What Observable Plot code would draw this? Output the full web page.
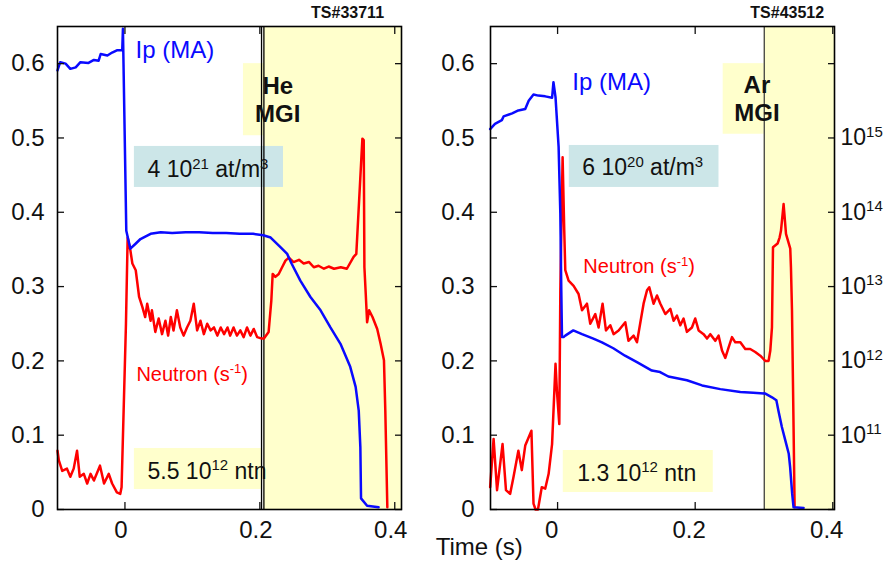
<!DOCTYPE html>
<html><head><meta charset="utf-8">
<script src="https://cdn.jsdelivr.net/npm/d3@7"></script>
<script src="https://cdn.jsdelivr.net/npm/@observablehq/plot@0.6"></script>
<style>
html,body{margin:0;padding:0;background:#fff;}
#wrap{position:relative;width:886px;height:563px;}
#wrap svg{position:absolute;top:0;}
</style></head><body><div id="wrap"></div>
<script>
// ---------- data ----------
const xTicks = [0, 0.2, 0.4];
const yTicks = [0, 0.1, 0.2, 0.3, 0.4, 0.5, 0.6];
const neutronLogTicks = [11, 12, 13, 14, 15];   // right axis of shot 43512, 10^n s^-1

const shotLeft = "TS#33711";
const shotRight = "TS#43512";
const mgiLeft = 0.206;   // He MGI trigger (s)
const mgiRight = 0.3004; // Ar MGI trigger (s)

// Shot 33711: plasma current Ip (MA) vs time (s)
const ipLeft = [[-0.100,0.591],[-0.096,0.602],[-0.088,0.600],[-0.081,0.593],[-0.073,0.595],[-0.066,0.602],[-0.054,0.601],[-0.046,0.605],[-0.039,0.604],[-0.036,0.613],[-0.026,0.611],[-0.019,0.615],[-0.012,0.618],[-0.004,0.618],[-0.003,0.647],[0.002,0.375],[0.008,0.351],[0.015,0.357],[0.023,0.364],[0.038,0.371],[0.053,0.373],[0.07,0.372],[0.09,0.373],[0.11,0.373],[0.13,0.372],[0.15,0.372],[0.17,0.371],[0.19,0.371],[0.205,0.369],[0.216,0.366],[0.2305,0.353],[0.2405,0.344],[0.247,0.331],[0.260,0.308],[0.275,0.286],[0.290,0.268],[0.3046,0.245],[0.3195,0.223],[0.334,0.192],[0.342,0.165],[0.3466,0.133],[0.349,0.084],[0.350,0.015],[0.359,0.005],[0.376,0.003]];

// Shot 33711: neutron rate (arbitrary log units, shown on the same frame)
const neutronLeft = [[-0.100,0.079],[-0.098,0.066],[-0.093,0.052],[-0.086,0.055],[-0.081,0.044],[-0.076,0.055],[-0.071,0.079],[-0.067,0.044],[-0.061,0.048],[-0.056,0.035],[-0.051,0.048],[-0.046,0.039],[-0.037,0.059],[-0.031,0.035],[-0.024,0.048],[-0.019,0.035],[-0.012,0.023],[-0.007,0.021],[-0.005,0.030],[0.0015,0.250],[0.004,0.366],[0.008,0.349],[0.011,0.331],[0.016,0.322],[0.021,0.286],[0.026,0.272],[0.030,0.259],[0.033,0.277],[0.038,0.254],[0.040,0.268],[0.045,0.239],[0.050,0.257],[0.055,0.236],[0.060,0.254],[0.064,0.234],[0.068,0.259],[0.072,0.241],[0.077,0.268],[0.082,0.245],[0.087,0.234],[0.092,0.245],[0.097,0.254],[0.102,0.277],[0.107,0.241],[0.112,0.254],[0.117,0.236],[0.122,0.250],[0.127,0.241],[0.132,0.245],[0.137,0.234],[0.142,0.245],[0.147,0.236],[0.152,0.245],[0.156,0.234],[0.161,0.245],[0.166,0.234],[0.171,0.241],[0.176,0.232],[0.181,0.245],[0.186,0.234],[0.191,0.243],[0.196,0.232],[0.203,0.230],[0.206,0.230],[0.213,0.239],[0.217,0.281],[0.219,0.317],[0.223,0.313],[0.228,0.317],[0.233,0.326],[0.238,0.335],[0.243,0.339],[0.250,0.333],[0.258,0.336],[0.265,0.331],[0.273,0.333],[0.280,0.326],[0.287,0.328],[0.295,0.324],[0.302,0.327],[0.310,0.324],[0.320,0.326],[0.329,0.324],[0.339,0.340],[0.343,0.344],[0.352,0.499],[0.354,0.497],[0.355,0.326],[0.357,0.290],[0.359,0.252],[0.362,0.268],[0.367,0.259],[0.374,0.243],[0.379,0.223],[0.384,0.201],[0.386,0.133],[0.389,0.003]];

// Shot 43512: plasma current Ip (MA)
const ipRight = [[-0.098,0.512],[-0.091,0.519],[-0.081,0.524],[-0.0785,0.529],[-0.066,0.533],[-0.057,0.537],[-0.047,0.539],[-0.042,0.550],[-0.035,0.5585],[-0.028,0.557],[-0.018,0.556],[-0.008,0.554],[-0.006,0.575],[-0.003,0.555],[0.0015,0.488],[0.004,0.398],[0.0054,0.295],[0.0064,0.232],[0.0087,0.232],[0.0112,0.234],[0.0228,0.241],[0.0355,0.236],[0.052,0.230],[0.0645,0.225],[0.081,0.217],[0.098,0.207],[0.116,0.198],[0.137,0.187],[0.149,0.185],[0.161,0.179],[0.188,0.174],[0.21,0.167],[0.2365,0.162],[0.2656,0.158],[0.2844,0.157],[0.302,0.156],[0.3116,0.151],[0.318,0.147],[0.321,0.133],[0.326,0.111],[0.331,0.093],[0.336,0.075],[0.338,0.057],[0.341,0.021],[0.343,0.003],[0.3576,0.002]];

// Shot 43512: neutron rate, log10(s^-1)
const neutronRight = [[-0.098,10.30],[-0.093,10.95],[-0.088,10.26],[-0.080,10.88],[-0.075,10.26],[-0.069,10.21],[-0.064,10.44],[-0.057,10.79],[-0.052,10.53],[-0.047,10.86],[-0.038,11.06],[-0.035,10.08],[-0.032,10.00],[-0.0285,10.00],[-0.023,10.30],[-0.018,10.28],[-0.013,10.48],[-0.008,10.88],[-0.003,11.96],[-0.001,11.60],[0.0025,11.15],[0.004,12.95],[0.0073,14.74],[0.0097,13.75],[0.0112,13.22],[0.016,13.08],[0.0233,13.01],[0.0305,12.90],[0.0355,12.68],[0.0427,12.77],[0.0475,12.50],[0.0548,12.63],[0.0596,12.45],[0.0654,12.77],[0.0703,12.41],[0.0766,12.48],[0.0814,12.36],[0.0887,12.41],[0.0984,12.52],[0.103,12.27],[0.1105,12.34],[0.1154,12.25],[0.120,12.50],[0.125,12.77],[0.130,12.95],[0.1333,12.99],[0.1395,12.77],[0.1445,12.88],[0.1494,12.77],[0.1566,12.63],[0.1639,12.70],[0.1686,12.54],[0.1735,12.61],[0.1784,12.48],[0.1831,12.57],[0.188,12.39],[0.1953,12.45],[0.2001,12.57],[0.205,12.41],[0.2122,12.36],[0.2172,12.30],[0.222,12.36],[0.2292,12.27],[0.234,12.34],[0.239,12.14],[0.2438,12.04],[0.2485,12.18],[0.2535,12.32],[0.2583,12.25],[0.2656,12.25],[0.2728,12.16],[0.280,12.16],[0.2873,12.12],[0.2946,12.07],[0.3019,12.00],[0.3067,12.00],[0.3092,12.14],[0.3116,12.45],[0.3131,13.53],[0.3198,13.58],[0.3227,13.66],[0.3247,13.75],[0.3285,14.11],[0.332,13.71],[0.3382,13.51],[0.3392,13.26],[0.3407,12.68],[0.343,11.11],[0.3445,10.03]];

const ipText = "Ip (MA)";
const neutronText = "Neutron (s^{-1})";
const densityLeft = "4 10^{21} at/m^{3}";
const densityRight = "6 10^{20} at/m^{3}";
const yieldLeft = "5.5 10^{12} ntn";
const yieldRight = "1.3 10^{12} ntn";
const gasLeft = "He\nMGI";
const gasRight = "Ar\nMGI";
const timeText = "Time (s)";

// ---------- styling ----------
const FONT = "'Liberation Sans', Arial, Helvetica, sans-serif";
const BLUE = "#0a0aff", RED = "#ff0000", SHADE = "#ffffcc", TEAL = "#cce6e8", INK = "#111";
const logToAxis = e => (e - 10) / 10;
const fmtX = d => d === 0 ? "0" : d.toFixed(1);
const fmtY = d => d === 0 ? "0" : d.toFixed(1);

function axesMarks(xDomain, padLeft, dxX) {
  return [
    Plot.axisY(yTicks, {anchor: "left", tickSize: 0, tickPadding: padLeft, tickFormat: fmtY, fontSize: 24, label: null}),
    Plot.axisY(yTicks, {anchor: "left", tickSize: -7, fill: "none", strokeWidth: 1.3, label: null}),
    Plot.axisY(yTicks, {anchor: "right", tickSize: -7, fill: "none", strokeWidth: 1.3, label: null}),
    Plot.axisX(xTicks, {anchor: "bottom", tickSize: 0, tickPadding: 11, dx: dxX, tickFormat: fmtX, fontSize: 24, label: null}),
    Plot.axisX(xTicks, {anchor: "bottom", tickSize: -7, fill: "none", strokeWidth: 1.3, label: null}),
    Plot.axisX(xTicks, {anchor: "top", tickSize: -7, fill: "none", strokeWidth: 1.3, label: null}),
    Plot.frame({stroke: "#000", strokeWidth: 1.6})
  ];
}

const common = {height: 563, marginTop: 26, marginBottom: 54, y: {domain: [0, 0.65]},
  style: {fontFamily: FONT, fontSize: "24px", color: INK, background: "none", overflow: "visible"}};

// ---------- left panel ----------
const xDomL = [-0.1, 0.41];
const left = Plot.plot({
  ...common, width: 430, marginLeft: 57, marginRight: 29,
  x: {domain: xDomL},
  marks: [
    Plot.rect([mgiLeft], {x1: d => d, x2: () => xDomL[1], y1: () => 0, y2: () => 0.65, fill: SHADE}),
    Plot.rect([gasLeft], {x1: () => 0.1757, x2: () => 0.23, y1: () => 0.503, y2: () => 0.600, fill: SHADE}),
    Plot.rect([densityLeft], {x1: () => 0.014, x2: () => 0.235, y1: () => 0.4334, y2: () => 0.4886, fill: TEAL}),
    Plot.rect([yieldLeft], {x1: () => 0.014, x2: () => 0.2025, y1: () => 0.0269, y2: () => 0.0821, fill: SHADE}),
    Plot.ruleX([mgiLeft - 0.0035, mgiLeft], {stroke: "#000", strokeWidth: 1.3}),
    Plot.line(neutronLeft, {x: d => d[0], y: d => d[1], stroke: RED, strokeWidth: 2.5}),
    Plot.line(ipLeft, {x: d => d[0], y: d => d[1], stroke: BLUE, strokeWidth: 2.5}),
    Plot.text([ipText], {x: 0.0156, y: 0.607, text: d => d, textAnchor: "start", lineAnchor: "bottom", fontSize: 24, fill: BLUE}),
    Plot.text([neutronText], {x: 0.017, y: 0.1736, text: d => d, textAnchor: "start", lineAnchor: "bottom", fontSize: 20, fill: RED}),
    Plot.text([densityLeft], {x: 0.0334, y: 0.4468, text: d => d, textAnchor: "start", lineAnchor: "bottom", fontSize: 23, fill: INK}),
    Plot.text([yieldLeft], {x: 0.0334, y: 0.0417, text: d => d, textAnchor: "start", lineAnchor: "bottom", fontSize: 23, fill: INK}),
    Plot.text([gasLeft], {x: 0.2265, y: 0.5209, text: d => d, textAnchor: "middle", lineAnchor: "bottom", lineHeight: 1.17, fontSize: 24, fontWeight: "bold", fill: INK}),
    Plot.text([shotLeft], {x: 0.33, y: 0.661, text: d => d, textAnchor: "middle", lineAnchor: "bottom", fontSize: 16, fontWeight: "bold", fill: INK}),
    ...axesMarks(xDomL, 13, -4)
  ]
});

// ---------- right panel ----------
const xDomR = [-0.0975, 0.4025];
const right = Plot.plot({
  ...common, width: 456, marginLeft: 60, marginRight: 52,
  x: {domain: xDomR},
  marks: [
    Plot.rect([mgiRight], {x1: d => d, x2: () => xDomR[1], y1: () => 0, y2: () => 0.65, fill: SHADE}),
    Plot.rect([gasRight], {x1: () => 0.2407, x2: () => mgiRight, y1: () => 0.505, y2: () => 0.600, fill: SHADE}),
    Plot.rect([densityRight], {x1: () => 0.017, x2: () => 0.2346, y1: () => 0.4334, y2: () => 0.4899, fill: TEAL}),
    Plot.rect([yieldRight], {x1: () => 0.0083, x2: () => 0.2263, y1: () => 0.0229, y2: () => 0.0794, fill: SHADE}),
    Plot.ruleX([mgiRight], {stroke: "#333", strokeWidth: 1.2}),
    Plot.line(neutronRight, {x: d => d[0], y: d => logToAxis(d[1]), stroke: RED, strokeWidth: 2.5}),
    Plot.line(ipRight, {x: d => d[0], y: d => d[1], stroke: BLUE, strokeWidth: 2.5}),
    Plot.text([ipText], {x: 0.0213, y: 0.564, text: d => d, textAnchor: "start", lineAnchor: "bottom", fontSize: 24, fill: BLUE}),
    Plot.text([neutronText], {x: 0.0374, y: 0.3176, text: d => d, textAnchor: "start", lineAnchor: "bottom", fontSize: 20, fill: RED}),
    Plot.text([densityRight], {x: 0.0359, y: 0.4495, text: d => d, textAnchor: "start", lineAnchor: "bottom", fontSize: 23, fill: INK}),
    Plot.text([yieldRight], {x: 0.0286, y: 0.039, text: d => d, textAnchor: "start", lineAnchor: "bottom", fontSize: 23, fill: INK}),
    Plot.text([gasRight], {x: 0.2897, y: 0.5222, text: d => d, textAnchor: "middle", lineAnchor: "bottom", lineHeight: 1.17, fontSize: 24, fontWeight: "bold", fill: INK}),
    Plot.text([shotRight], {x: 0.3338, y: 0.661, text: d => d, textAnchor: "middle", lineAnchor: "bottom", fontSize: 16, fontWeight: "bold", fill: INK}),
    Plot.text([timeText], {x: -0.1138, y: -0.0619, text: d => d, textAnchor: "middle", lineAnchor: "bottom", fontSize: 24, fill: INK}),
    Plot.axisY(neutronLogTicks.map(logToAxis), {anchor: "right", tickSize: 0, tickPadding: 6, fontSize: 23, label: null,
      tickFormat: d => "10^{" + Math.round(10 + d * 10) + "}"}),
    ...axesMarks(xDomR, 16, -6)
  ]
});

const wrap = document.getElementById("wrap");
left.style.left = "0px";
right.style.left = "430px";
wrap.appendChild(left);
wrap.appendChild(right);

// turn ^{...} markers into real superscript tspans
function supify(root) {
  root.querySelectorAll("text").forEach(text => {
    const tspans = text.querySelectorAll("tspan");
    const nodes = tspans.length ? Array.from(tspans) : [text];
    nodes.forEach(node => {
      const s = node.textContent;
      if (!s.includes("^{")) return;
      const fs = parseFloat(getComputedStyle(node).fontSize) || 20;
      const shift = 0.38 * fs;
      text.style.whiteSpace = "pre";
      while (node.firstChild) node.removeChild(node.firstChild);
      const parts = s.split(/\^\{([^}]*)\}/);
      let raised = false;
      parts.forEach((p, i) => {
        if (!p) return;
        const ts = document.createElementNS("http://www.w3.org/2000/svg", "tspan");
        ts.textContent = p;
        if (i % 2) {
          ts.setAttribute("font-size", (0.65 * fs).toFixed(1));
          ts.setAttribute("dy", (-shift).toFixed(1));
          raised = true;
        } else if (raised) {
          ts.setAttribute("dy", shift.toFixed(1));
          raised = false;
        }
        node.appendChild(ts);
      });
    });
  });
}
supify(left);
supify(right);
</script></body></html>
